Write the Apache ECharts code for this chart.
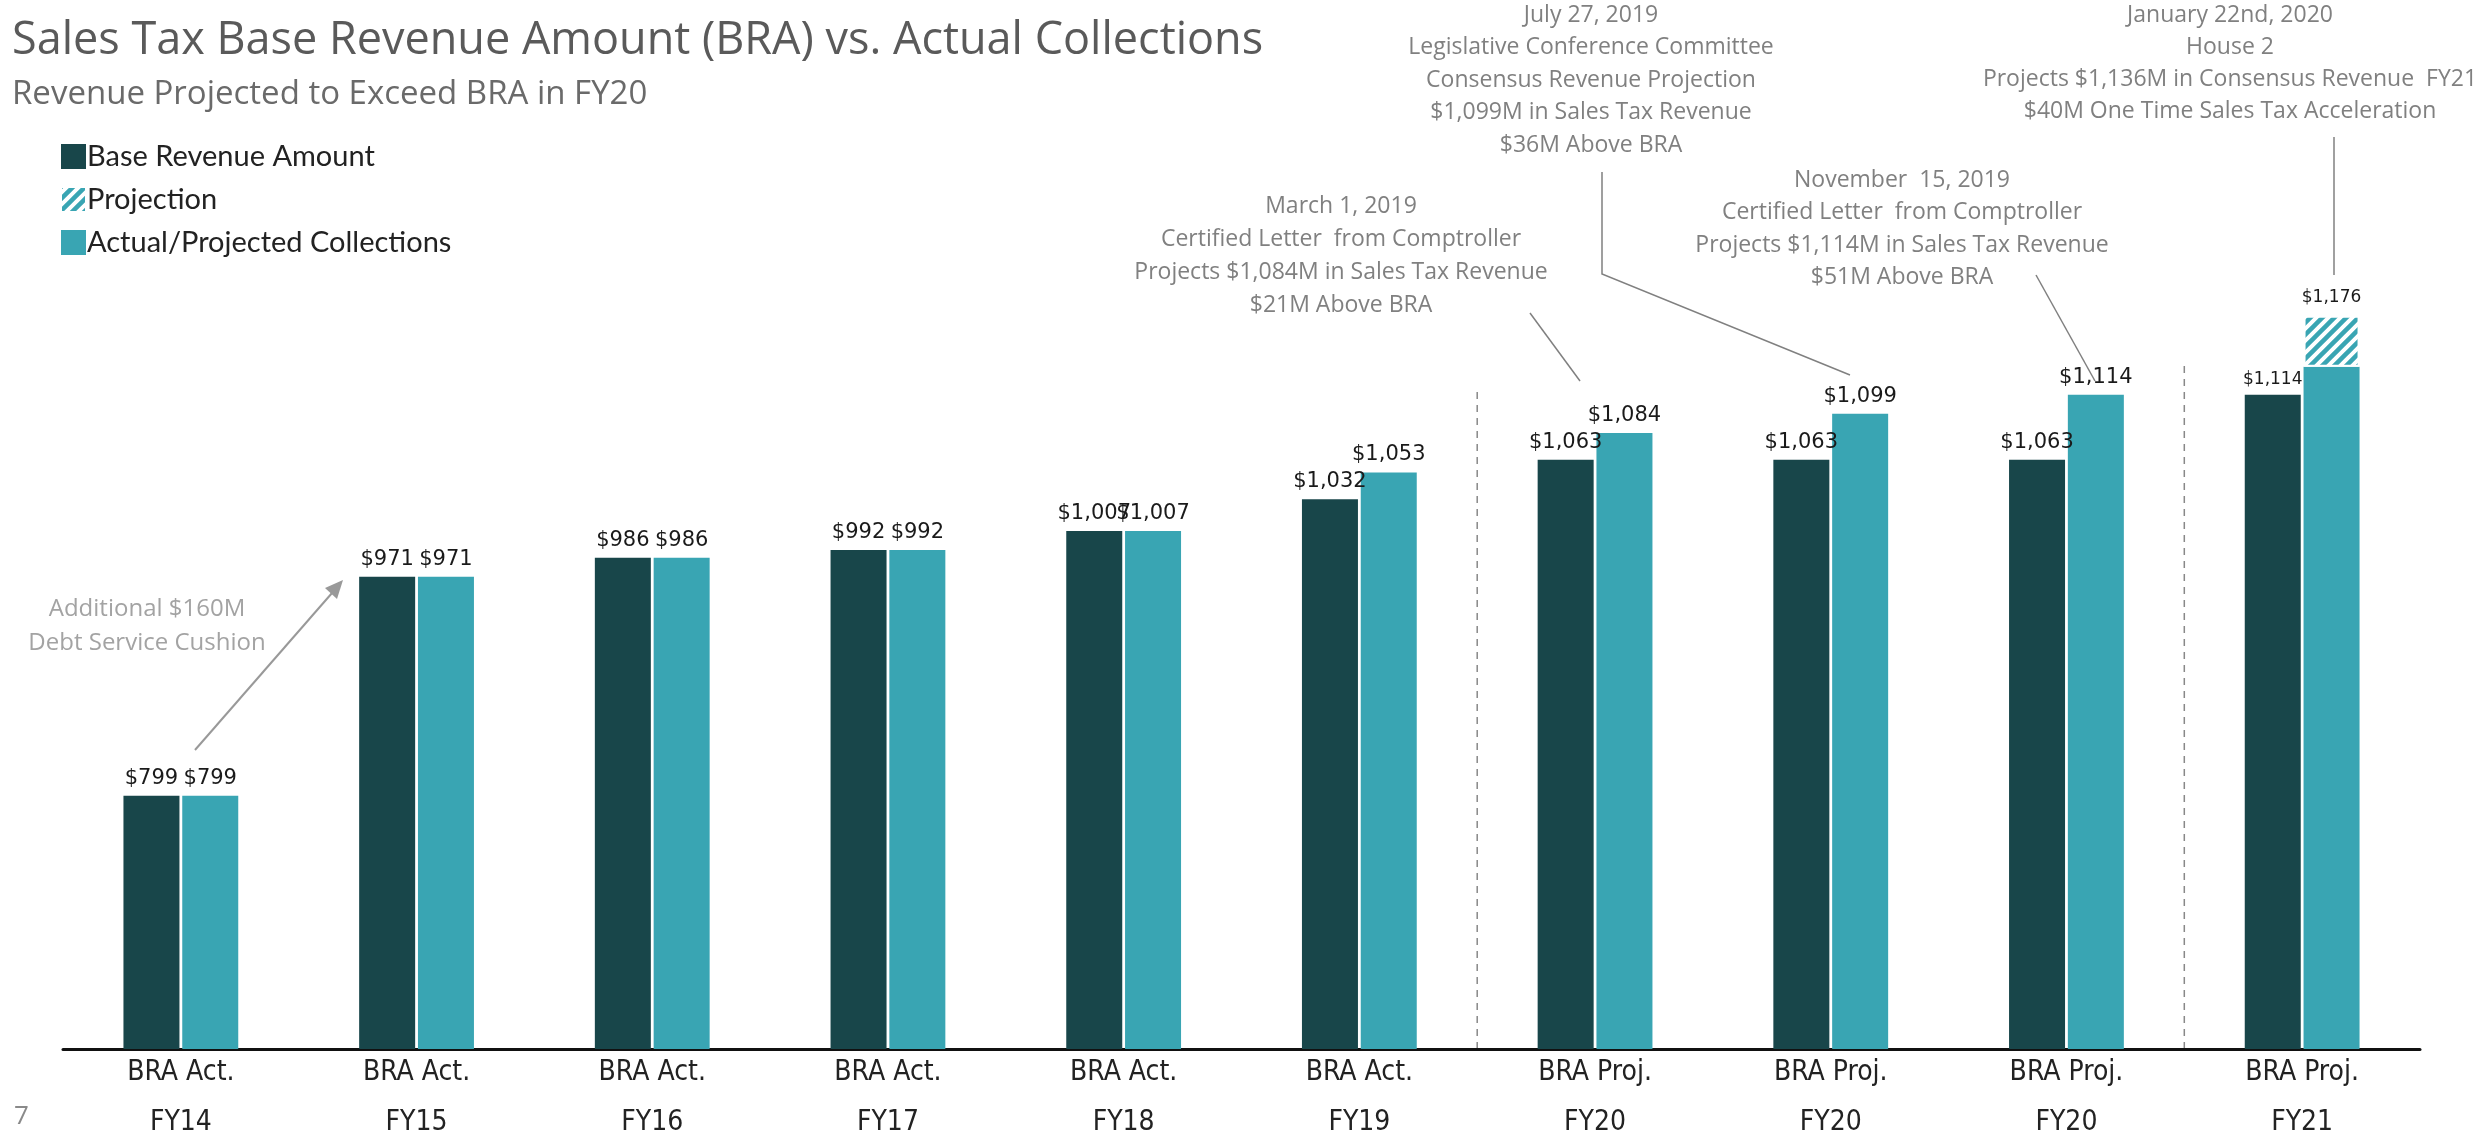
<!DOCTYPE html>
<html>
<head>
<meta charset="utf-8">
<script src="https://cdn.jsdelivr.net/npm/echarts@6/dist/echarts.min.js"></script>
<style>
html, body { margin: 0; padding: 0; background: #fff; }
#main { width: 2488px; height: 1141px; }
</style>
</head>
<body>
<div id="main"></div>
<script>
var years = ['FY14', 'FY15', 'FY16', 'FY17', 'FY18', 'FY19', 'FY20', 'FY20', 'FY20', 'FY21'];
var subLabels = ['BRA Act.', 'BRA Act.', 'BRA Act.', 'BRA Act.', 'BRA Act.', 'BRA Act.', 'BRA Proj.', 'BRA Proj.', 'BRA Proj.', 'BRA Proj.'];
var braValues = [799, 971, 986, 992, 1007, 1032, 1063, 1063, 1063, 1114];
var actualValues = [799, 971, 986, 992, 1007, 1053, 1084, 1099, 1114, 1136];
var projectionValues = [null, null, null, null, null, null, null, null, null, 40];
// dashed dividers: after which category, and how high (in $M) they reach
var dividerAfter = [5, 8];
var dividerTop = [1118, 1140];

var darkColor = '#18464a';
var tealColor = '#39a5b3';
var noteColor = '#808080';
var noteFont = '23px "Open Sans"';
var axisFont = '"Liberation Sans Narrow", "DejaVu Sans Condensed", sans-serif';

function money(v) {
    return '$' + String(v).replace(/\B(?=(\d{3})+(?!\d))/g, ',');
}

// hatch fill for the projection part
var hatch = document.createElement('canvas');
hatch.width = 12;
hatch.height = 12;
var ctx = hatch.getContext('2d');
ctx.fillStyle = '#fff';
ctx.fillRect(0, 0, 12, 12);
ctx.strokeStyle = tealColor;
ctx.lineWidth = 4.5;
ctx.beginPath();
ctx.moveTo(-3, 3); ctx.lineTo(3, -3);
ctx.moveTo(0, 12); ctx.lineTo(12, 0);
ctx.moveTo(9, 15); ctx.lineTo(15, 9);
ctx.stroke();

var myChart = echarts.init(document.getElementById('main'));

var option = {
    backgroundColor: '#fff',
    animation: false,
    legend: {
        orient: 'vertical',
        left: 55,
        top: 137,
        itemWidth: 25,
        itemHeight: 25,
        itemGap: 14,
        icon: 'rect',
        selectedMode: false,
        data: ['Base Revenue Amount', 'Projection', 'Actual/Projected Collections'],
        textStyle: { fontFamily: 'Lato', fontSize: 29, color: '#222', padding: [0, 0, 0, -4] }
    },
    grid: { left: 63, right: 68, top: 158, bottom: 92 },
    xAxis: {
        type: 'category',
        data: years,
        axisLine: { lineStyle: { color: '#111', width: 3 } },
        axisTick: { show: false },
        axisLabel: {
            margin: 10,
            formatter: function (v, i) {
                return '{a|' + subLabels[i] + '}\n{b|' + v + '}';
            },
            rich: {
                a: { fontFamily: axisFont, fontSize: 28, color: '#222', lineHeight: 28 },
                b: { fontFamily: axisFont, fontSize: 28, color: '#222', lineHeight: 28, padding: [44, 0, 0, 0] }
            }
        }
    },
    yAxis: {
        type: 'value',
        min: 600,
        max: 1300,
        show: false,
        splitLine: { show: false }
    },
    series: [
        {
            name: 'Base Revenue Amount',
            type: 'bar',
            barWidth: 56,
            barGap: '5%',
            itemStyle: { color: darkColor },
            label: {
                show: true,
                position: 'top',
                distance: 7,
                fontFamily: 'DejaVu Sans',
                fontSize: 21,
                color: '#1a1a1a',
                formatter: function (p) {
                    return p.dataIndex === 9 ? '{s|' + money(p.value) + '}' : money(p.value);
                },
                rich: { s: { fontFamily: 'DejaVu Sans', fontSize: 17, color: '#1a1a1a' } }
            },
            data: braValues
        },
        {
            name: 'Actual/Projected Collections',
            type: 'bar',
            stack: 'act',
            barWidth: 56,
            itemStyle: { color: tealColor },
            label: {
                show: true,
                position: 'top',
                distance: 7,
                fontFamily: 'DejaVu Sans',
                fontSize: 21,
                color: '#1a1a1a',
                formatter: function (p) {
                    return projectionValues[p.dataIndex] ? '' : money(p.value);
                }
            },
            data: actualValues
        },
        {
            name: 'Projection',
            type: 'bar',
            stack: 'act',
            barWidth: 56,
            itemStyle: { color: { image: hatch, repeat: 'repeat' }, borderColor: '#fff', borderWidth: 2 },
            label: {
                show: true,
                position: 'top',
                distance: 10,
                fontFamily: 'DejaVu Sans',
                fontSize: 17,
                color: '#1a1a1a',
                formatter: function (p) {
                    return money(actualValues[p.dataIndex] + p.value);
                }
            },
            data: projectionValues
        }
    ],
    graphic: [
        {
            type: 'text', left: 12, top: 19,
            style: { text: 'Sales Tax Base Revenue Amount (BRA) vs. Actual Collections', font: '45px "Open Sans"', fill: '#5a5a5a' }
        },
        {
            type: 'text', left: 12, top: 78,
            style: { text: 'Revenue Projected to Exceed BRA in FY20', font: '33px "Open Sans"', fill: '#6a6a6a' }
        },
        {
            type: 'text', x: 1341, y: 190,
            style: { text: 'March 1, 2019\nCertified Letter  from Comptroller\nProjects $1,084M in Sales Tax Revenue\n$21M Above BRA',
                font: noteFont, fill: noteColor, align: 'center', verticalAlign: 'top', lineHeight: 33 }
        },
        {
            type: 'text', x: 1591, y: -1,
            style: { text: 'July 27, 2019\nLegislative Conference Committee\nConsensus Revenue Projection\n$1,099M in Sales Tax Revenue\n$36M Above BRA',
                font: noteFont, fill: noteColor, align: 'center', verticalAlign: 'top', lineHeight: 32.5 }
        },
        {
            type: 'text', x: 1902, y: 164,
            style: { text: 'November  15, 2019\nCertified Letter  from Comptroller\nProjects $1,114M in Sales Tax Revenue\n$51M Above BRA',
                font: noteFont, fill: noteColor, align: 'center', verticalAlign: 'top', lineHeight: 32.5 }
        },
        {
            type: 'text', x: 2230, y: -1,
            style: { text: 'January 22nd, 2020\nHouse 2\nProjects $1,136M in Consensus Revenue  FY21\n$40M One Time Sales Tax Acceleration',
                font: noteFont, fill: noteColor, align: 'center', verticalAlign: 'top', lineHeight: 32 }
        },
        {
            type: 'text', x: 147, y: 592,
            style: { text: 'Additional $160M\nDebt Service Cushion', font: '24px "Open Sans"', fill: '#a3a3a3',
                align: 'center', verticalAlign: 'top', lineHeight: 34 }
        },
        {
            type: 'text', left: 14, top: 1104,
            style: { text: '7', font: '26px "Open Sans"', fill: '#8a8a8a' }
        },
        // leader lines
        { type: 'polyline', shape: { points: [[1530, 313], [1580, 381]] }, style: { stroke: noteColor, lineWidth: 1.5, fill: null } },
        { type: 'polyline', shape: { points: [[1602, 172], [1602, 274], [1850, 375]] }, style: { stroke: noteColor, lineWidth: 1.5, fill: null } },
        { type: 'polyline', shape: { points: [[2036, 275], [2095, 381]] }, style: { stroke: noteColor, lineWidth: 1.5, fill: null } },
        { type: 'polyline', shape: { points: [[2334, 137], [2334, 275]] }, style: { stroke: noteColor, lineWidth: 1.5, fill: null } },
        // arrow FY14 -> FY15
        { type: 'polyline', shape: { points: [[195, 750], [332, 593]] }, style: { stroke: '#999', lineWidth: 2, fill: null } },
        { type: 'polygon', shape: { points: [[343, 580], [337, 599], [325, 588]] }, style: { fill: '#999' } }
    ]
};

myChart.setOption(option);

// dividers sit half way between two categories, placed with the chart's own scales
dividerAfter.forEach(function (idx, k) {
    var a = myChart.convertToPixel({ gridIndex: 0 }, [idx, 600]);
    var b = myChart.convertToPixel({ gridIndex: 0 }, [idx + 1, dividerTop[k]]);
    var x = (a[0] + b[0]) / 2;
    option.graphic.push({
        type: 'line',
        shape: { x1: x, y1: a[1], x2: x, y2: b[1] },
        style: { stroke: '#888', lineWidth: 1.5, lineDash: [7, 6] }
    });
});
myChart.setOption(option, true);
</script>
</body>
</html>
